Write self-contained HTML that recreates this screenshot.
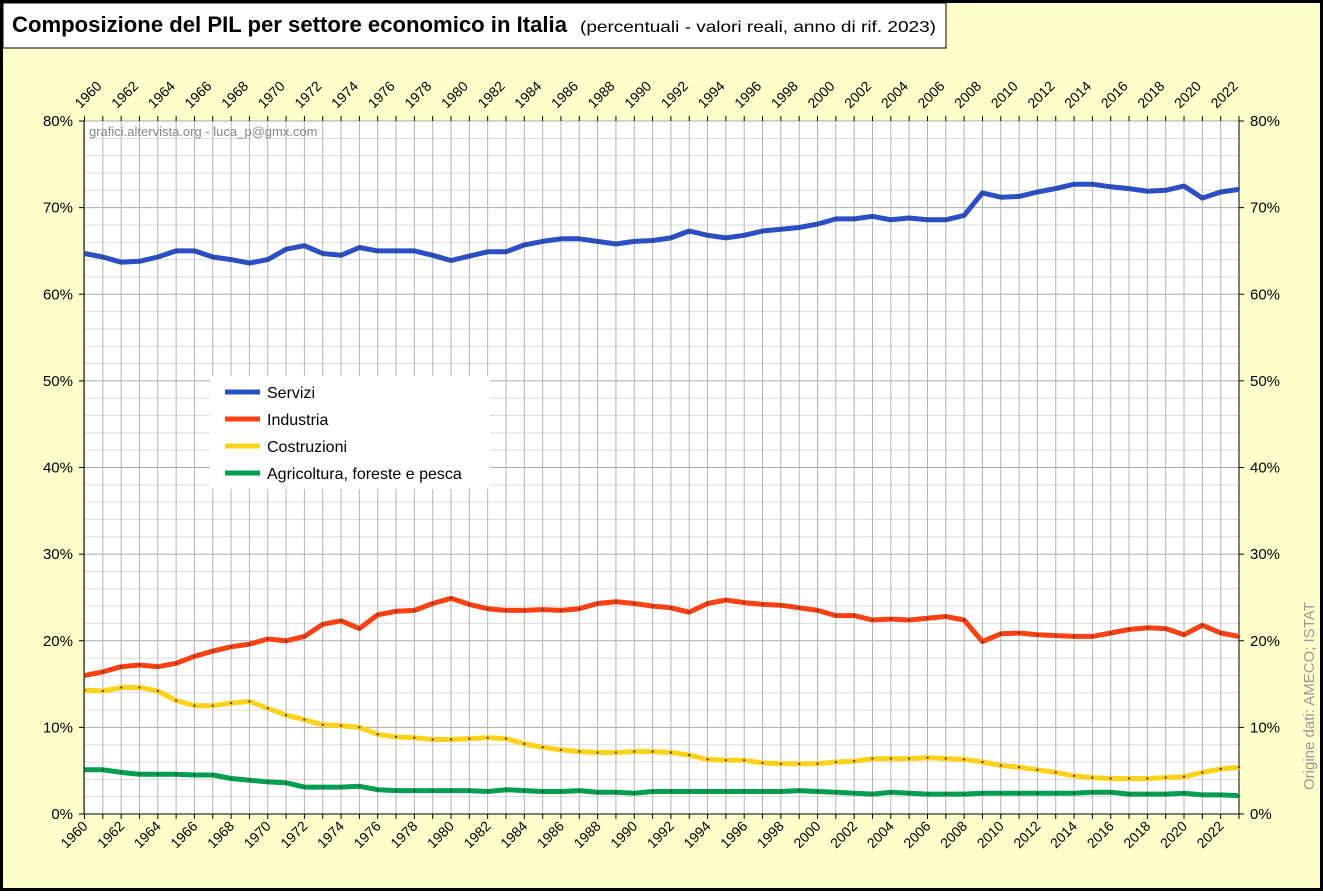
<!DOCTYPE html>
<html><head><meta charset="utf-8"><style>
html,body{margin:0;padding:0;}
body{width:1323px;height:891px;overflow:hidden;background:#fff;font-family:"Liberation Sans",sans-serif;}
svg text{font-family:"Liberation Sans","DejaVu Sans",sans-serif;}
</style></head><body>
<svg id="s" width="1323" height="891" xmlns="http://www.w3.org/2000/svg">
<rect x="1.5" y="1.5" width="1320" height="888" fill="#ffffcc" stroke="#000" stroke-width="3"/>
<rect x="84" y="121" width="1155" height="693" fill="#fff"/>
<g id="grid"></g>
<g id="series"></g>
<rect x="3" y="3" width="943" height="45" fill="#fff" stroke="#000" stroke-width="1"/>
<text x="12" y="32" font-size="22" font-weight="bold" fill="#000" textLength="555" lengthAdjust="spacingAndGlyphs">Composizione del PIL per settore economico in Italia</text>
<text x="580" y="32" font-size="16" fill="#000" textLength="356" lengthAdjust="spacingAndGlyphs">(percentuali - valori reali, anno di rif. 2023)</text>
<text x="89" y="136" font-size="13" fill="#888">grafici.altervista.org - luca_p@gmx.com</text>
<text x="1314" y="790" font-size="15" fill="#999" transform="rotate(-90 1314 790)">Origine dati: AMECO; ISTAT</text>
<rect x="210" y="376" width="280" height="113" fill="#fff"/>
<g font-size="16" fill="#000">
<line x1="225" y1="392" x2="260" y2="392" stroke="#2a4fc8" stroke-width="5"/><text x="267" y="398">Servizi</text>
<line x1="225" y1="419" x2="260" y2="419" stroke="#ff4010" stroke-width="5"/><text x="267" y="425">Industria</text>
<line x1="225" y1="446" x2="260" y2="446" stroke="#ffd21a" stroke-width="5"/><text x="267" y="452">Costruzioni</text>
<line x1="225" y1="473" x2="260" y2="473" stroke="#00a050" stroke-width="5"/><text x="267" y="479">Agricoltura, foreste e pesca</text>
</g>
</svg>
<script>
const X0=84.5,DX=(1239-84.5)/63,Y0=814,DY=693/80;
const xs=i=>X0+i*DX, ys=v=>Y0-v*DY;
let g='';
for(let v=0;v<=80;v+=2){const y=ys(v);const maj=v%10==0;g+=`<line x1="84" x2="1239" y1="${y}" y2="${y}" stroke="${maj?'#aaa':'#ddd'}" stroke-width="1"/>`;}
for(let i=0;i<=63;i++){const x=xs(i);g+=`<line x1="${x}" x2="${x}" y1="121" y2="814" stroke="#b4b4b4" stroke-width="1"/>`;
g+=`<line x1="${x}" x2="${x}" y1="814" y2="819" stroke="#000"/><line x1="${x}" x2="${x}" y1="116" y2="121" stroke="#000"/>`;
if(i%2==0){const yr=1960+i;g+=`<text font-size="14" text-anchor="end" transform="translate(${x+4},827) rotate(-45)">${yr}</text>`;
g+=`<text font-size="14" text-anchor="start" transform="translate(${x-4},109) rotate(-45)">${yr}</text>`;}}
for(let v=0;v<=80;v+=10){const y=ys(v);g+=`<line x1="79" x2="84" y1="${y}" y2="${y}" stroke="#000"/><line x1="1239" x2="1244" y1="${y}" y2="${y}" stroke="#000"/>`;
g+=`<text x="73" y="${y+5}" font-size="15" text-anchor="end">${v}%</text><text x="1250" y="${y+5}" font-size="15">${v}%</text>`;}
g+=`<line x1="84" x2="84" y1="121" y2="814" stroke="#000"/><line x1="1239" x2="1239" y1="121" y2="814" stroke="#000"/><line x1="84" x2="1239" y1="814" y2="814" stroke="#000"/>`;
document.getElementById('grid').innerHTML=g;
const D={
'#2a4fc8':[64.7,64.3,63.7,63.8,64.3,65.0,65.0,64.3,64.0,63.6,64.0,65.2,65.6,64.7,64.5,65.4,65.0,65.0,65.0,64.5,63.9,64.4,64.9,64.9,65.7,66.1,66.4,66.4,66.1,65.8,66.1,66.2,66.5,67.3,66.8,66.5,66.8,67.3,67.5,67.7,68.1,68.7,68.7,69.0,68.6,68.8,68.6,68.6,69.1,71.7,71.2,71.3,71.8,72.2,72.7,72.7,72.4,72.2,71.9,72.0,72.5,71.1,71.8,72.1],
'#ff4010':[16.0,16.4,17.0,17.2,17.0,17.4,18.2,18.8,19.3,19.6,20.2,20.0,20.5,21.9,22.3,21.4,23.0,23.4,23.5,24.3,24.9,24.2,23.7,23.5,23.5,23.6,23.5,23.7,24.3,24.5,24.3,24.0,23.8,23.3,24.3,24.7,24.4,24.2,24.1,23.8,23.5,22.9,22.9,22.4,22.5,22.4,22.6,22.8,22.4,19.9,20.8,20.9,20.7,20.6,20.5,20.5,20.9,21.3,21.5,21.4,20.7,21.8,20.9,20.5],
'#ffd21a':[14.3,14.2,14.6,14.6,14.2,13.1,12.5,12.5,12.8,13.0,12.2,11.4,10.9,10.3,10.2,10.0,9.2,8.9,8.8,8.6,8.6,8.7,8.8,8.7,8.1,7.7,7.4,7.2,7.1,7.1,7.2,7.2,7.1,6.8,6.3,6.2,6.2,5.9,5.8,5.8,5.8,6.0,6.1,6.4,6.4,6.4,6.5,6.4,6.3,6.0,5.6,5.4,5.1,4.8,4.4,4.2,4.1,4.1,4.1,4.2,4.3,4.8,5.2,5.4],
'#00a050':[5.1,5.1,4.8,4.6,4.6,4.6,4.5,4.5,4.1,3.9,3.7,3.6,3.1,3.1,3.1,3.2,2.8,2.7,2.7,2.7,2.7,2.7,2.6,2.8,2.7,2.6,2.6,2.7,2.5,2.5,2.4,2.6,2.6,2.6,2.6,2.6,2.6,2.6,2.6,2.7,2.6,2.5,2.4,2.3,2.5,2.4,2.3,2.3,2.3,2.4,2.4,2.4,2.4,2.4,2.4,2.5,2.5,2.3,2.3,2.3,2.4,2.2,2.2,2.1]};
let s='';
for(const c in D){const p=D[c].map((v,i)=>xs(i).toFixed(1)+','+ys(v).toFixed(1)).join(' ');
s+=`<polyline points="${p}" fill="none" stroke="${c}" stroke-width="5" stroke-linejoin="round"/>`;
D[c].forEach((v,i)=>{s+=`<circle cx="${xs(i)}" cy="${ys(v)}" r="1.2" fill="#444"/>`;});}
document.getElementById('series').innerHTML=s;
</script>
</body></html>
